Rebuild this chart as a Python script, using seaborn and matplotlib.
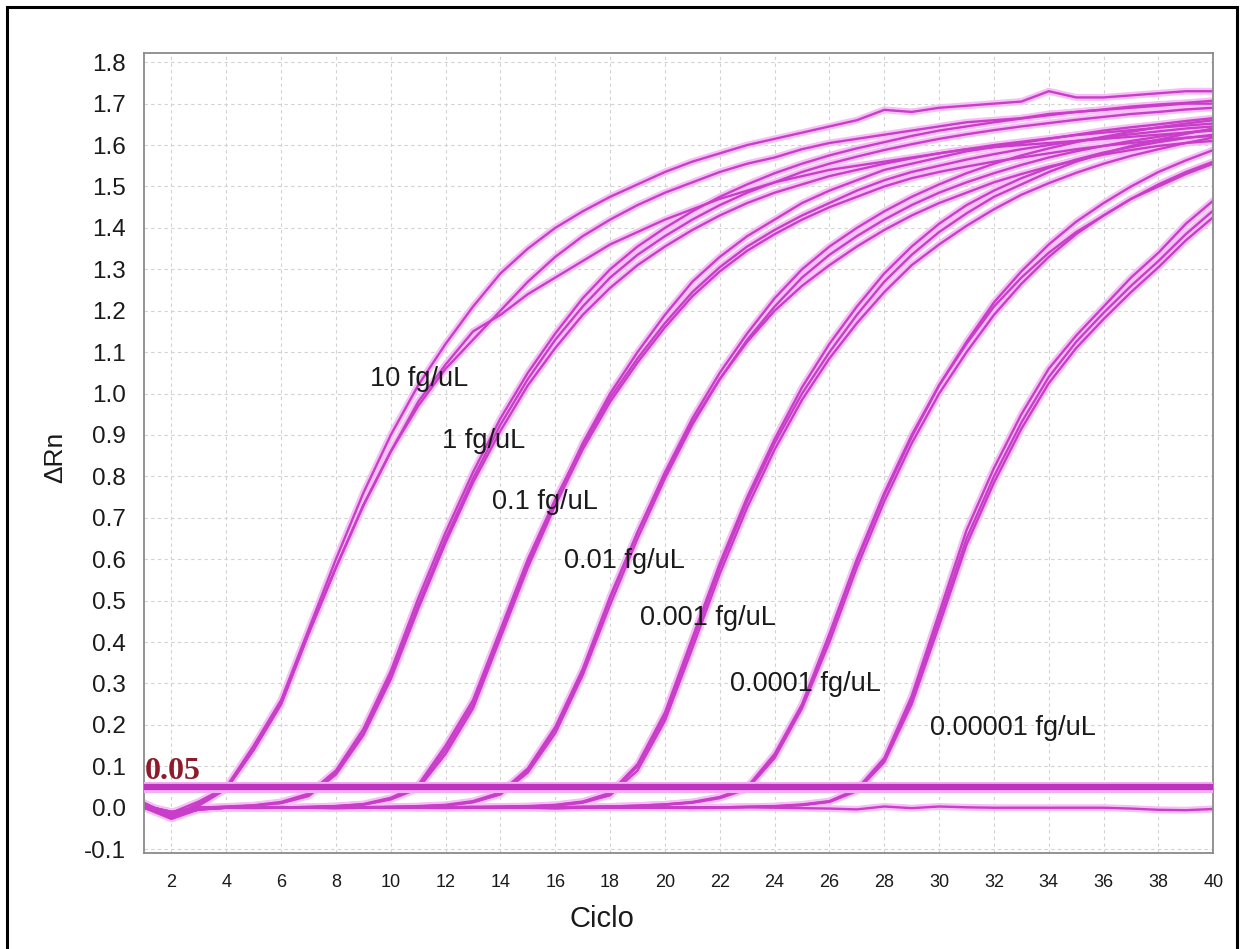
import numpy as np
import pandas as pd
import matplotlib
matplotlib.use("Agg")
import matplotlib.pyplot as plt
import seaborn as sns
from matplotlib.patches import Rectangle

# ---------------- data ----------------
cycles = list(range(1, 41))

fg_10 = [
    [0.005, -0.012, 0.015, 0.05, 0.15, 0.26, 0.43, 0.60, 0.76, 0.90, 1.02, 1.12, 1.21, 1.29, 1.35, 1.40, 1.44, 1.475, 1.505, 1.535,
     1.56, 1.58, 1.60, 1.615, 1.63, 1.645, 1.66, 1.685, 1.68, 1.69, 1.695, 1.70, 1.705, 1.73, 1.715, 1.715, 1.72, 1.725, 1.73, 1.73],
    [0.0, -0.02, 0.01, 0.045, 0.14, 0.25, 0.42, 0.58, 0.73, 0.86, 0.97, 1.06, 1.13, 1.20, 1.27, 1.33, 1.38, 1.42, 1.455, 1.485,
     1.51, 1.535, 1.555, 1.57, 1.59, 1.605, 1.615, 1.625, 1.635, 1.645, 1.655, 1.66, 1.665, 1.675, 1.68, 1.685, 1.69, 1.695, 1.70, 1.70],
    [0.01, -0.025, 0.005, 0.045, 0.14, 0.25, 0.42, 0.58, 0.73, 0.86, 0.98, 1.07, 1.15, 1.19, 1.24, 1.28, 1.32, 1.36, 1.39, 1.42,
     1.445, 1.47, 1.49, 1.51, 1.525, 1.54, 1.55, 1.56, 1.57, 1.58, 1.59, 1.595, 1.60, 1.605, 1.61, 1.615, 1.62, 1.625, 1.63, 1.635],
]
fg_1 = [
    [0.005, -0.01, 0.0, 0.003, 0.006, 0.014, 0.034, 0.09, 0.19, 0.33, 0.505, 0.665, 0.81, 0.94, 1.05, 1.145, 1.23, 1.30, 1.355, 1.40,
     1.44, 1.475, 1.505, 1.532, 1.555, 1.575, 1.592, 1.607, 1.622, 1.635, 1.645, 1.655, 1.664, 1.672, 1.68, 1.686, 1.693, 1.698, 1.702, 1.707],
    [0.0, -0.018, -0.002, 0.002, 0.005, 0.012, 0.03, 0.085, 0.18, 0.32, 0.49, 0.65, 0.795, 0.925, 1.035, 1.13, 1.21, 1.28, 1.335, 1.38,
     1.42, 1.455, 1.485, 1.51, 1.535, 1.555, 1.572, 1.588, 1.602, 1.615, 1.626, 1.636, 1.645, 1.653, 1.661, 1.668, 1.675, 1.68, 1.686, 1.69],
    [0.01, -0.022, 0.0, 0.002, 0.005, 0.011, 0.028, 0.08, 0.175, 0.31, 0.48, 0.64, 0.785, 0.91, 1.02, 1.11, 1.19, 1.255, 1.31, 1.355,
     1.395, 1.43, 1.46, 1.485, 1.505, 1.525, 1.54, 1.555, 1.568, 1.58, 1.59, 1.60, 1.608, 1.616, 1.624, 1.63, 1.636, 1.642, 1.647, 1.652],
]
fg_01 = [
    [0.005, -0.012, -0.002, 0.0, 0.0, 0.001, 0.002, 0.004, 0.008, 0.022, 0.05, 0.14, 0.25, 0.42, 0.59, 0.74, 0.88, 1.00, 1.10, 1.19,
     1.27, 1.33, 1.38, 1.42, 1.46, 1.49, 1.515, 1.54, 1.555, 1.57, 1.585, 1.595, 1.605, 1.615, 1.625, 1.635, 1.643, 1.65, 1.658, 1.665],
    [0.0, -0.02, 0.0, 0.0, 0.001, 0.0, 0.002, 0.004, 0.009, 0.024, 0.055, 0.15, 0.26, 0.43, 0.60, 0.745, 0.875, 0.99, 1.085, 1.17,
     1.245, 1.305, 1.355, 1.395, 1.43, 1.46, 1.49, 1.515, 1.535, 1.55, 1.565, 1.578, 1.59, 1.60, 1.61, 1.618, 1.626, 1.633, 1.64, 1.645],
    [0.01, -0.018, -0.003, 0.0, 0.0, 0.001, 0.001, 0.003, 0.007, 0.02, 0.046, 0.13, 0.24, 0.41, 0.58, 0.73, 0.865, 0.98, 1.075, 1.16,
     1.235, 1.295, 1.345, 1.385, 1.42, 1.45, 1.475, 1.50, 1.52, 1.535, 1.548, 1.56, 1.57, 1.58, 1.59, 1.598, 1.605, 1.612, 1.618, 1.622],
]
fg_001 = [
    [0.005, -0.01, 0.0, 0.0, -0.001, 0.0, 0.001, 0.0, 0.001, 0.002, 0.003, 0.006, 0.014, 0.034, 0.09, 0.19, 0.33, 0.505, 0.665, 0.81,
     0.94, 1.05, 1.145, 1.23, 1.30, 1.355, 1.40, 1.44, 1.475, 1.505, 1.532, 1.555, 1.575, 1.592, 1.607, 1.62, 1.632, 1.643, 1.652, 1.66],
    [0.0, -0.02, -0.004, 0.0, 0.0, 0.001, 0.0, 0.001, 0.0, 0.002, 0.003, 0.005, 0.013, 0.032, 0.085, 0.18, 0.32, 0.49, 0.65, 0.795,
     0.925, 1.035, 1.13, 1.21, 1.28, 1.335, 1.38, 1.42, 1.455, 1.485, 1.51, 1.532, 1.552, 1.57, 1.585, 1.598, 1.61, 1.62, 1.63, 1.638],
    [0.008, -0.015, 0.0, 0.001, 0.0, 0.0, 0.001, 0.001, 0.002, 0.002, 0.004, 0.007, 0.016, 0.037, 0.095, 0.195, 0.335, 0.51, 0.665, 0.805,
     0.93, 1.035, 1.125, 1.20, 1.26, 1.31, 1.355, 1.395, 1.43, 1.46, 1.485, 1.51, 1.53, 1.548, 1.563, 1.577, 1.588, 1.598, 1.605, 1.61],
]
fg_0001 = [
    [0.005, -0.012, 0.0, 0.0, 0.0, 0.001, 0.0, -0.001, 0.0, 0.001, 0.0, 0.001, 0.002, 0.002, 0.003, 0.006, 0.014, 0.034, 0.10, 0.22,
     0.40, 0.58, 0.74, 0.88, 1.00, 1.10, 1.19, 1.27, 1.335, 1.39, 1.435, 1.475, 1.505, 1.535, 1.56, 1.58, 1.598, 1.613, 1.627, 1.64],
    [0.0, -0.018, -0.002, 0.0, 0.001, 0.0, 0.0, 0.001, 0.0, 0.0, 0.001, 0.001, 0.001, 0.002, 0.003, 0.005, 0.012, 0.03, 0.09, 0.21,
     0.385, 0.565, 0.725, 0.865, 0.985, 1.085, 1.17, 1.245, 1.31, 1.36, 1.405, 1.445, 1.48, 1.508, 1.533, 1.555, 1.574, 1.59, 1.605, 1.618],
    [0.008, -0.022, 0.0, 0.001, 0.0, 0.0, 0.001, 0.0, 0.001, 0.001, 0.0, 0.002, 0.002, 0.003, 0.004, 0.007, 0.015, 0.036, 0.105, 0.23,
     0.41, 0.59, 0.75, 0.89, 1.015, 1.12, 1.21, 1.29, 1.355, 1.41, 1.455, 1.49, 1.52, 1.545, 1.565, 1.582, 1.595, 1.607, 1.617, 1.625],
]
fg_00001 = [
    [0.005, -0.01, 0.0, 0.0, 0.0, 0.0, 0.001, 0.0, 0.0, 0.001, 0.0, 0.0, 0.001, 0.0, 0.001, 0.001, 0.002, 0.003, 0.005, 0.008,
     0.014, 0.026, 0.05, 0.13, 0.25, 0.42, 0.60, 0.76, 0.90, 1.02, 1.12, 1.21, 1.28, 1.34, 1.39, 1.43, 1.47, 1.50, 1.53, 1.555],
    [0.0, -0.02, -0.003, 0.0, 0.001, 0.0, 0.0, 0.001, 0.0, 0.0, 0.001, 0.0, 0.0, 0.001, 0.001, 0.002, 0.002, 0.003, 0.005, 0.008,
     0.013, 0.025, 0.048, 0.125, 0.245, 0.415, 0.595, 0.755, 0.895, 1.02, 1.125, 1.22, 1.295, 1.36, 1.415, 1.46, 1.50, 1.535, 1.563, 1.588],
    [0.01, -0.016, 0.0, 0.001, 0.0, 0.0, 0.0, 0.001, 0.001, 0.0, 0.0, 0.001, 0.0, 0.0, 0.001, 0.001, 0.002, 0.002, 0.004, 0.007,
     0.012, 0.023, 0.045, 0.12, 0.24, 0.40, 0.58, 0.74, 0.88, 1.00, 1.10, 1.19, 1.265, 1.33, 1.385, 1.43, 1.47, 1.505, 1.535, 1.56],
]
fg_000001 = [
    [0.005, -0.012, 0.0, 0.0, 0.001, 0.0, 0.0, 0.0, 0.001, 0.0, 0.0, 0.001, 0.0, 0.0, 0.0, 0.001, 0.0, 0.001, 0.001, 0.0,
     0.001, 0.001, 0.002, 0.004, 0.008, 0.016, 0.045, 0.12, 0.27, 0.47, 0.67, 0.82, 0.95, 1.06, 1.14, 1.21, 1.28, 1.34, 1.41, 1.466],
    [0.0, -0.027, -0.004, 0.0, 0.0, 0.001, 0.0, 0.0, 0.0, 0.001, 0.0, 0.0, 0.001, 0.0, 0.0, 0.0, 0.001, 0.0, 0.0, 0.001,
     0.001, 0.001, 0.002, 0.003, 0.007, 0.015, 0.042, 0.115, 0.26, 0.455, 0.65, 0.80, 0.93, 1.04, 1.125, 1.195, 1.26, 1.32, 1.385, 1.442],
    [0.012, -0.02, 0.0, 0.001, 0.0, 0.0, 0.0, 0.001, 0.0, 0.0, 0.001, 0.0, 0.0, 0.001, 0.0, 0.0, 0.0, 0.001, 0.0, 0.0,
     0.0, 0.001, 0.002, 0.003, 0.006, 0.014, 0.04, 0.11, 0.25, 0.44, 0.635, 0.785, 0.915, 1.025, 1.11, 1.18, 1.245, 1.305, 1.37, 1.426],
]
ntc = [0.005, -0.015, -0.005, 0.0, 0.001, 0.002, 0.0, -0.001, 0.0, 0.001, 0.0, -0.001, 0.0, 0.001, 0.0, -0.002, 0.0, 0.003, 0.001, 0.0,
       -0.001, 0.0, 0.001, 0.0, -0.001, -0.002, -0.004, 0.003, -0.001, 0.003, 0.001, 0.0, 0.0, 0.0, 0.0, 0.0, -0.002, -0.005, -0.006, -0.003]

threshold = 0.05
threshold_label = "0.05"

group_labels = ["10 fg/uL", "1 fg/uL", "0.1 fg/uL", "0.01 fg/uL", "0.001 fg/uL", "0.0001 fg/uL", "0.00001 fg/uL"]
group_data = [fg_10, fg_1, fg_01, fg_001, fg_0001, fg_00001, fg_000001]
label_x = [9.26, 11.87, 13.69, 16.31, 19.10, 22.39, 29.68]
label_y = [1.034, 0.886, 0.737, 0.596, 0.459, 0.298, 0.193]

x_ticks = list(range(2, 41, 2))
y_ticks = [-0.1, 0.0, 0.1, 0.2, 0.3, 0.4, 0.5, 0.6, 0.7, 0.8, 0.9, 1.0, 1.1, 1.2, 1.3, 1.4, 1.5, 1.6, 1.7, 1.8]

# ---------------- long-form table ----------------
rows = []
for g, reps in zip(group_labels, group_data):
    for r, vals in enumerate(reps):
        for c, v in zip(cycles, vals):
            rows.append({"Ciclo": c, "dRn": v, "curve": f"{g}-{r}"})
for c, v in zip(cycles, ntc):
    rows.append({"Ciclo": c, "dRn": v, "curve": "NTC"})
df = pd.DataFrame(rows)

# ---------------- figure ----------------
sns.set_theme(style="white")
plt.rcParams["font.family"] = ["Liberation Sans", "DejaVu Sans"]

W, H = 1244, 949
fig = plt.figure(figsize=(W / 100, H / 100), dpi=100)
fig.patch.set_facecolor("white")
L, R, T, B = 144, 1213.3, 52.7, 853.3
ax = fig.add_axes([L / W, 1 - B / H, (R - L) / W, (B - T) / H])

# glow underlay + magenta body
sns.lineplot(data=df, x="Ciclo", y="dRn", units="curve", estimator=None,
             color="#f6c0f6", lw=5.0, ax=ax, legend=False)
sns.lineplot(data=df, x="Ciclo", y="dRn", units="curve", estimator=None,
             color="#c83ec8", lw=1.7, ax=ax, legend=False)

ax.axhline(threshold, color="#f2b0f2", lw=8, zorder=3)
ax.axhline(threshold, color="#bd33bd", lw=4.5, zorder=4)
ax.text(1.03, threshold + 0.003, threshold_label, color="#8e1b2a", fontsize=23,
        fontweight="bold", family=["Liberation Serif", "DejaVu Serif"],
        ha="left", va="bottom", zorder=5)

for lab, lx, ly in zip(group_labels, label_x, label_y):
    ax.text(lx, ly, lab, fontsize=19.5, color="#1a1a1a", ha="left", va="center", zorder=6)

ax.set_xlim(1, 40)
ax.set_ylim(-0.110, 1.823)
ax.set_xticks(x_ticks)
ax.set_yticks(y_ticks)
ax.set_yticklabels([f"{v:.1f}" for v in y_ticks])
ax.grid(True, color="#d2d2d2", lw=0.8, ls=(0, (3, 3)))
ax.set_axisbelow(True)

for s in ax.spines.values():
    s.set_color("#8a8a8a")
    s.set_linewidth(1.3)
ax.tick_params(axis="both", which="major", direction="out", length=5, width=1,
               color="#8a8a8a", labelcolor="#1a1a1a")
ax.tick_params(axis="y", labelsize=17.5, pad=8)
ax.tick_params(axis="x", labelsize=13, pad=10)

ax.set_xlabel("Ciclo", fontsize=21, color="#1a1a1a")
ax.xaxis.set_label_coords((602 - L) / (R - L), (B - 919) / (B - T))
ax.xaxis.label.set_va("center")
ax.set_ylabel("ΔRn", fontsize=19, color="#1a1a1a")
ax.yaxis.set_label_coords((55 - L) / (R - L), (B - 457) / (B - T))
ax.yaxis.label.set_va("center")

fig.add_artist(Rectangle((7 / W, -0.05), (1237 - 7) / W, 1 - 7 / H + 0.05,
                         transform=fig.transFigure, fill=False, ec="black",
                         lw=2.2, clip_on=False))

fig.savefig("out.png", dpi=100, facecolor="white")
